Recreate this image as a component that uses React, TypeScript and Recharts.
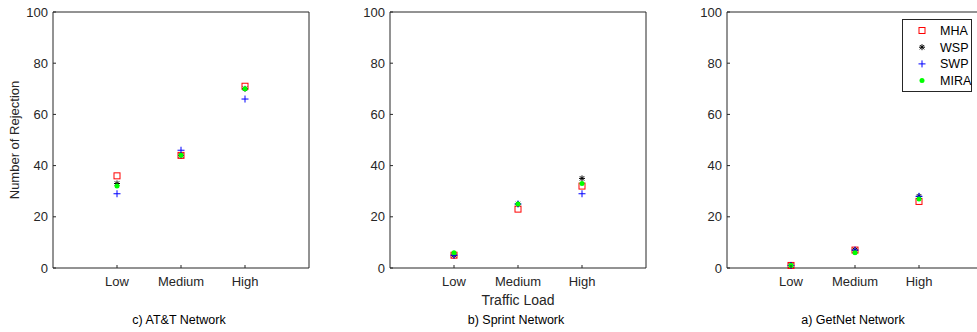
import React from "react";
import { ScatterChart, Scatter, XAxis, YAxis } from "recharts";

const categories = ["Low", "Medium", "High"];
const categoryPositions = [1, 2, 3];
const yTicks = [0, 20, 40, 60, 80, 100];
const seriesNames = ["MHA", "WSP", "SWP", "MIRA"];

// AT&T
const attMHA = [36, 44, 71];
const attWSP = [33, 44, 70];
const attSWP = [29, 46, 66];
const attMIRA = [32, 44, 70];

// Sprint
const sprintMHA = [5, 23, 32];
const sprintWSP = [5, 25, 35];
const sprintSWP = [5, 25, 29];
const sprintMIRA = [6, 25, 33];

// GetNet
const getnetMHA = [1, 7, 26];
const getnetWSP = [1, 7, 28];
const getnetSWP = [1, 7, 28];
const getnetMIRA = [1, 6, 27];

const panels = [
  { caption: "c) AT&T Network", series: [attMHA, attWSP, attSWP, attMIRA] },
  { caption: "b) Sprint Network", series: [sprintMHA, sprintWSP, sprintSWP, sprintMIRA] },
  { caption: "a) GetNet Network", series: [getnetMHA, getnetWSP, getnetSWP, getnetMIRA] },
];

const AXIS = "#262626";
const FONT = "'Liberation Sans', Arial, sans-serif";
const CHART_W = 337;
const CHART_H = 332;
const PLOT_LEFT = 53;
const PLOT_W = 256;

function Marker({ name, cx, cy }: { name: string; cx: number; cy: number }) {
  if (name === "MHA") {
    return (
      <rect x={cx - 3} y={cy - 3} width={6} height={6} fill="none" stroke="#ff0000" strokeWidth={1} />
    );
  }
  if (name === "WSP") {
    return (
      <g stroke="#000000" strokeWidth={1}>
        <line x1={cx - 3} y1={cy} x2={cx + 3} y2={cy} />
        <line x1={cx} y1={cy - 3} x2={cx} y2={cy + 3} />
        <line x1={cx - 2.2} y1={cy - 2.2} x2={cx + 2.2} y2={cy + 2.2} />
        <line x1={cx - 2.2} y1={cy + 2.2} x2={cx + 2.2} y2={cy - 2.2} />
      </g>
    );
  }
  if (name === "SWP") {
    return (
      <g stroke="#0000ff" strokeWidth={1}>
        <line x1={cx - 3.5} y1={cy} x2={cx + 3.5} y2={cy} />
        <line x1={cx} y1={cy - 3.5} x2={cx} y2={cy + 3.5} />
      </g>
    );
  }
  return <circle cx={cx} cy={cy} r={2.5} fill="#00ff00" />;
}

const BottomTick = (p: any) => (
  <g>
    <line x1={p.x} y1={p.y} x2={p.x} y2={p.y - 3} stroke={AXIS} />
    <text x={p.x} y={p.y + 18} textAnchor="middle" fontSize={13} fontFamily={FONT} fill={AXIS}>
      {categories[categoryPositions.indexOf(p.payload.value)]}
    </text>
  </g>
);

const TopTick = (p: any) => (
  <line x1={p.x} y1={p.y} x2={p.x} y2={p.y + 3} stroke={AXIS} />
);

const LeftTick = (p: any) => (
  <g>
    <line x1={p.x} y1={p.y} x2={p.x + 3} y2={p.y} stroke={AXIS} />
    <text x={p.x - 5} y={p.y} dy="0.35em" textAnchor="end" fontSize={13} fontFamily={FONT} fill={AXIS}>
      {p.payload.value}
    </text>
  </g>
);

const RightTick = (p: any) => (
  <line x1={p.x} y1={p.y} x2={p.x - 3} y2={p.y} stroke={AXIS} />
);

function Panel({ series }: { series: number[][] }) {
  return (
    <ScatterChart
      width={CHART_W}
      height={CHART_H}
      margin={{ top: 11, right: CHART_W - PLOT_LEFT - PLOT_W - 1, bottom: 44, left: 13 }}
    >
      <XAxis
        xAxisId={0}
        type="number"
        dataKey="x"
        domain={[0, 4]}
        ticks={categoryPositions}
        interval={0}
        height={20}
        tickSize={0}
        tickMargin={0}
        tickLine={false}
        tick={BottomTick}
        axisLine={{ stroke: AXIS }}
      />
      <XAxis
        xAxisId="top"
        orientation="top"
        type="number"
        dataKey="x"
        domain={[0, 4]}
        ticks={categoryPositions}
        interval={0}
        height={1}
        tickSize={0}
        tickMargin={0}
        tickLine={false}
        tick={TopTick}
        axisLine={{ stroke: AXIS }}
      />
      <YAxis
        yAxisId={0}
        type="number"
        dataKey="y"
        domain={[0, 100]}
        ticks={yTicks}
        interval={0}
        width={40}
        tickSize={0}
        tickMargin={0}
        tickLine={false}
        tick={LeftTick}
        axisLine={{ stroke: AXIS }}
      />
      <YAxis
        yAxisId="right"
        orientation="right"
        type="number"
        dataKey="y"
        domain={[0, 100]}
        ticks={yTicks}
        interval={0}
        width={1}
        tickSize={0}
        tickMargin={0}
        tickLine={false}
        tick={RightTick}
        axisLine={{ stroke: AXIS }}
      />
      {series.map((vals, si) => (
        <Scatter
          key={seriesNames[si]}
          name={seriesNames[si]}
          xAxisId={0}
          yAxisId={0}
          data={vals.map((v, i) => ({ x: categoryPositions[i], y: v }))}
          isAnimationActive={false}
          shape={(p: any) => <Marker name={seriesNames[si]} cx={p.cx} cy={p.cy} />}
        />
      ))}
    </ScatterChart>
  );
}

export default function App() {
  const legendX = 902;
  const legendY = 19;
  return (
    <div
      style={{
        position: "absolute",
        left: 0,
        top: 0,
        width: 977,
        height: 332,
        overflow: "hidden",
        background: "#ffffff",
      }}
    >
      {panels.map((p, i) => (
        <div key={p.caption} style={{ position: "absolute", left: i * CHART_W, top: 0 }}>
          <Panel series={p.series} />
        </div>
      ))}
      <svg
        width={977}
        height={332}
        style={{ position: "absolute", left: 0, top: 0, pointerEvents: "none" }}
      >
        <text
          transform="translate(19,140) rotate(-90)"
          textAnchor="middle"
          fontSize={13}
          fontFamily={FONT}
          fill={AXIS}
        >
          Number of Rejection
        </text>
        <text x={518} y={305} textAnchor="middle" fontSize={14} fontFamily={FONT} fill={AXIS}>
          Traffic Load
        </text>
        {panels.map((p, i) => (
          <text
            key={p.caption}
            x={i * CHART_W + PLOT_LEFT + PLOT_W / 2 - 2}
            y={324}
            textAnchor="middle"
            fontSize={12.5}
            fontFamily={FONT}
            fill="#000000"
          >
            {p.caption}
          </text>
        ))}
        <rect
          x={legendX + 0.5}
          y={legendY + 0.5}
          width={69}
          height={72}
          fill="#ffffff"
          stroke={AXIS}
          strokeWidth={1}
        />
        {seriesNames.map((n, i) => (
          <g key={n}>
            <Marker name={n} cx={legendX + 20} cy={legendY + 11.5 + i * 16.7} />
            <text
              x={legendX + 38}
              y={legendY + 16 + i * 16.7}
              fontSize={12.5}
              fontFamily={FONT}
              fill="#000000"
            >
              {n}
            </text>
          </g>
        ))}
      </svg>
    </div>
  );
}
